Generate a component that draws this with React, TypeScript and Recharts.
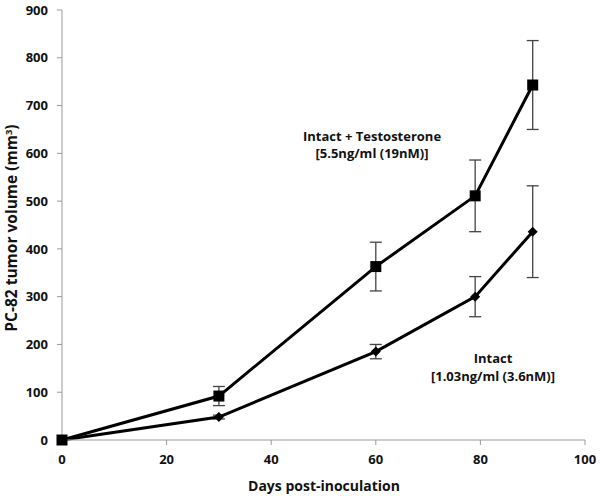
import { CartesianGrid, ErrorBar, Line, LineChart, XAxis, YAxis } from 'recharts'

const days = [0, 30, 60, 79, 90]
const testosterone = [0, 92, 363, 511, 743]
const testosteroneErr = [0, 20, 51, 75, 93]
const intact = [0, 48, 185, 300, 436]
const intactErr = [0, 4, 15, 42, 96]

const xTicks = [0, 20, 40, 60, 80, 100]
const yTicks = [0, 100, 200, 300, 400, 500, 600, 700, 800, 900]

const data = days.map((d, i) => ({
	day: d,
	t: testosterone[i],
	tErr: testosteroneErr[i],
	i: intact[i],
	iErr: intactErr[i],
}))

const FONT = '"Open Sans", Lato, sans-serif'
const AXIS = '#9a9a9a'

function SquareDot({ cx, cy }: { cx?: number; cy?: number }) {
	if (cx == null || cy == null) return <g />
	return <rect x={cx - 5.5} y={cy - 5.5} width={11} height={11} fill="#000" />
}

function DiamondDot({ cx, cy }: { cx?: number; cy?: number }) {
	if (cx == null || cy == null) return <g />
	const r = 5
	return <path d={`M${cx},${cy - r}L${cx + r},${cy}L${cx},${cy + r}L${cx - r},${cy}Z`} fill="#000" />
}

const tickStyle = { fontFamily: FONT, fontWeight: 700, fontSize: 13, fill: '#111' }

export default function App() {
	return (
		<div style={{ position: 'absolute', left: 0, top: 0, width: 601, height: 496, background: '#fff' }}>
			<LineChart width={601} height={496} data={data} margin={{ top: 10, right: 16, left: 0, bottom: 0 }}>
				<CartesianGrid stroke="none" />
				<XAxis
					dataKey="day"
					type="number"
					domain={[0, 100]}
					ticks={xTicks}
					height={56}
					stroke={AXIS}
					tickSize={5}
					tickMargin={10}
					tick={tickStyle}
				/>
				<YAxis
					type="number"
					domain={[0, 900]}
					ticks={yTicks}
					width={62}
					stroke={AXIS}
					tickSize={5}
					tickMargin={9}
					tick={tickStyle}
				/>
				<Line
					dataKey="i"
					stroke="#000"
					strokeWidth={3}
					isAnimationActive={false}
					dot={(p: any) => <DiamondDot key={`d${p.index}`} cx={p.cx} cy={p.cy} />}
					activeDot={false}
				>
					<ErrorBar dataKey="iErr" width={6} stroke="#444" strokeWidth={1.3} direction="y" />
				</Line>
				<Line
					dataKey="t"
					stroke="#000"
					strokeWidth={3}
					isAnimationActive={false}
					dot={(p: any) => <SquareDot key={`s${p.index}`} cx={p.cx} cy={p.cy} />}
					activeDot={false}
				>
					<ErrorBar dataKey="tErr" width={6} stroke="#444" strokeWidth={1.3} direction="y" />
				</Line>
			</LineChart>
			<svg
				width={601}
				height={496}
				style={{ position: 'absolute', left: 0, top: 0, pointerEvents: 'none' }}
				fontFamily={FONT}
				fontWeight={700}
				fill="#111"
			>
				<text x={324} y={491} textAnchor="middle" fontSize={14}>
					Days post-inoculation
				</text>
				<text x={17} y={228} textAnchor="middle" fontSize={15.5} transform="rotate(-90 17 228)">
					PC-82 tumor volume (mm<tspan dy={-5} fontSize={9.5}>3</tspan>
					<tspan dy={5}>)</tspan>
				</text>
				<text x={372} y={141} textAnchor="middle" fontSize={13}>
					Intact + Testosterone
				</text>
				<text x={372} y={158} textAnchor="middle" fontSize={13}>
					[5.5ng/ml (19nM)]
				</text>
				<text x={493} y={363} textAnchor="middle" fontSize={13}>
					Intact
				</text>
				<text x={493} y={381} textAnchor="middle" fontSize={13}>
					[1.03ng/ml (3.6nM)]
				</text>
			</svg>
		</div>
	)
}
